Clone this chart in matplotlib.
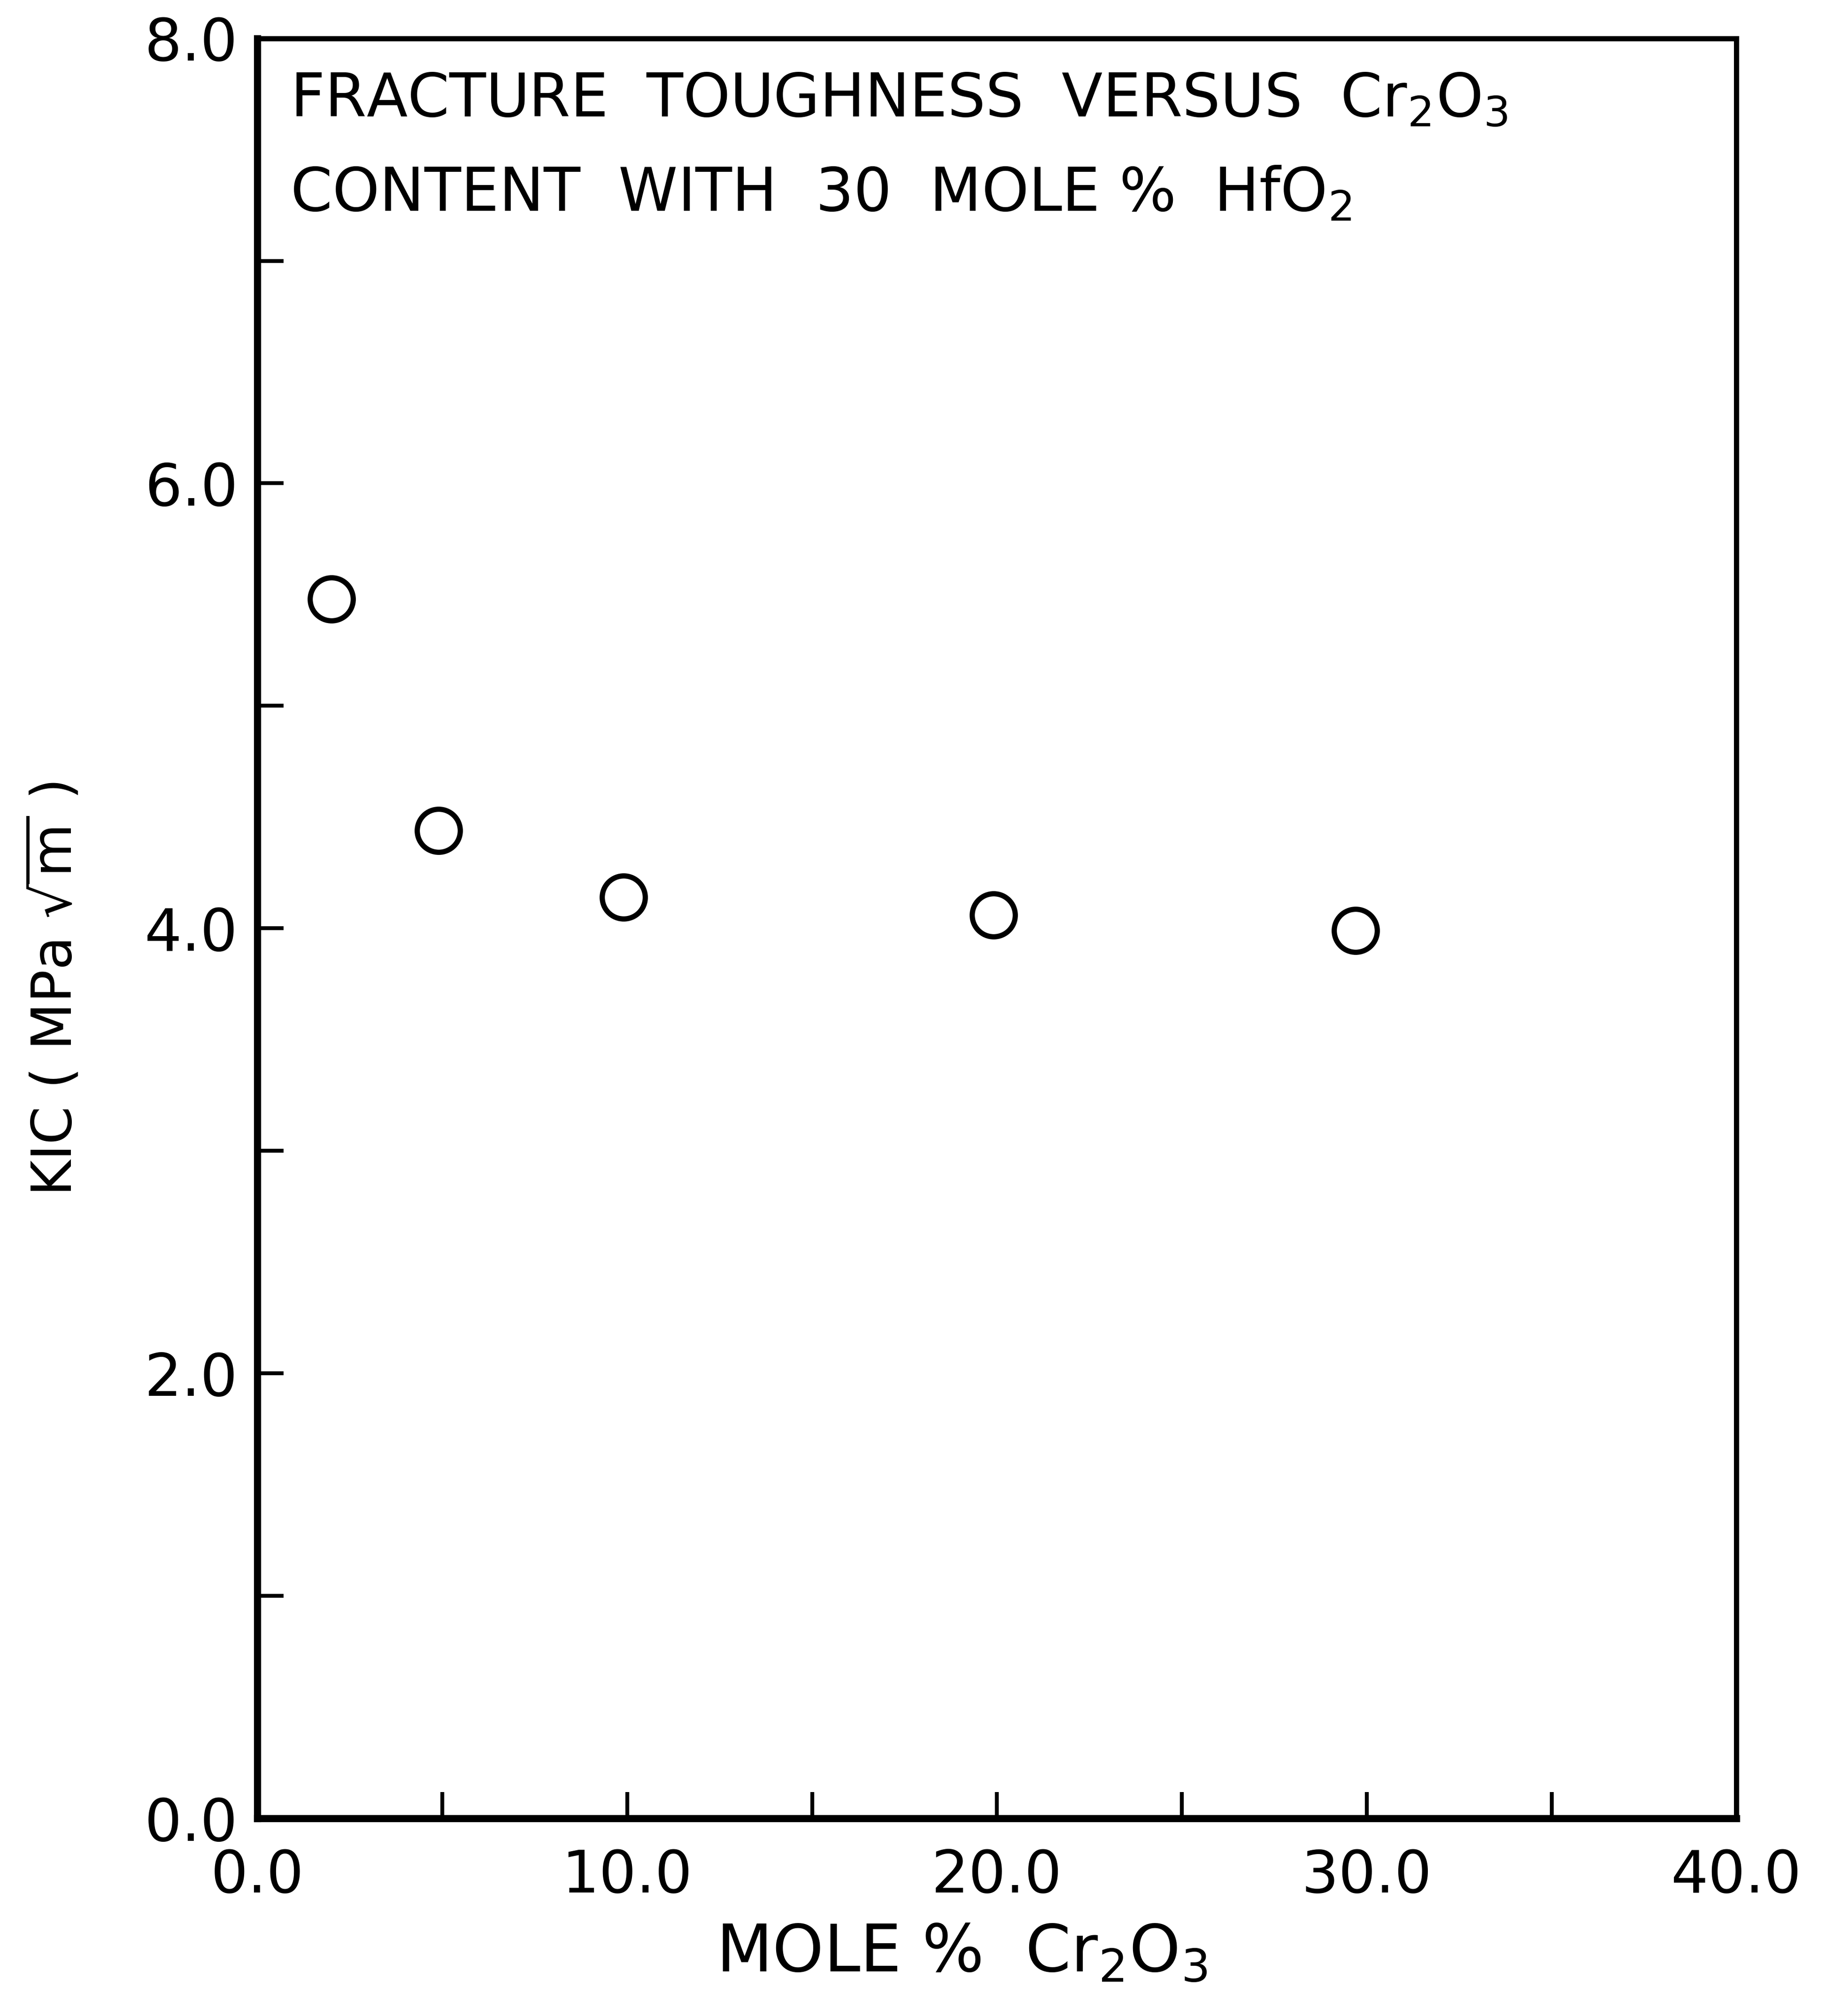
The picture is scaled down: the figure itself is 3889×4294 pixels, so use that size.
import numpy as np
import matplotlib.pyplot as plt

# data
cr2o3_mole = [2.0, 4.9, 9.9, 19.9, 29.7]
kic = [5.48, 4.44, 4.14, 4.06, 3.99]

x_major = [0.0, 10.0, 20.0, 30.0, 40.0]
x_labels = ['0.0', '10.0', '20.0', '30.0', '40.0']
y_major = [0.0, 2.0, 4.0, 6.0, 8.0]
y_labels = ['0.0', '2.0', '4.0', '6.0', '8.0']

plt.rcParams['font.family'] = ['DejaVu Sans']
plt.rcParams['mathtext.default'] = 'regular'

fig = plt.figure(figsize=(38.89, 42.94), dpi=100)
ax = fig.add_axes([0.141, 0.098, 0.810, 0.883])

ax.plot(cr2o3_mole, kic, 'o', ms=66, mfc='none', mec='black', mew=8)

ax.set_xlim(0, 40)
ax.set_ylim(0, 8)
ax.set_xticks(x_major)
ax.set_xticklabels(x_labels)
ax.set_yticks(y_major)
ax.set_yticklabels(y_labels)
ax.set_xticks(np.arange(5, 40, 10), minor=True)
ax.set_yticks(np.arange(1, 8, 2), minor=True)

ax.tick_params(which='both', direction='in', length=40, width=6, labelsize=90, pad=45)
ax.tick_params(axis='y', pad=30)
ax.tick_params(axis='x', which='both', top=False)
ax.tick_params(axis='y', which='both', right=False)

for s in ax.spines.values():
    s.set_linewidth(8)
ax.spines['left'].set_linewidth(11)
ax.spines['bottom'].set_linewidth(11)

ax.set_xlabel('MOLE %  Cr$_2$O$_3$', fontsize=100)
ax.xaxis.set_label_coords(0.476, -0.058)
ax.set_ylabel('KIC ( MPa $\\sqrt{m}$ )', fontsize=84)
ax.yaxis.set_label_coords(-0.118, 0.466)

ax.text(0.022, 0.982, 'FRACTURE  TOUGHNESS  VERSUS  Cr$_2$O$_3$',
        transform=ax.transAxes, fontsize=92, va='top', ha='left')
ax.text(0.022, 0.929, 'CONTENT  WITH  30  MOLE %  HfO$_2$',
        transform=ax.transAxes, fontsize=92, va='top', ha='left')

fig.savefig('out.png', dpi=100, facecolor='white')
